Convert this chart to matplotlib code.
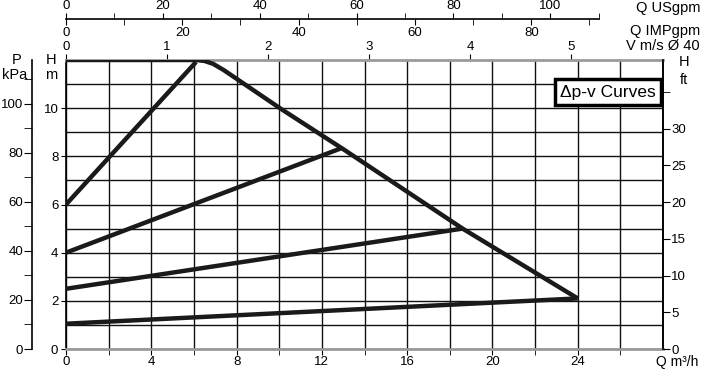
import matplotlib
matplotlib.use('Agg')
import matplotlib.pyplot as plt

plt.rcParams['font.family'] = ['Liberation Sans', 'DejaVu Sans']
plt.rcParams['font.size'] = 9.5

# Max curve (m3/h, m)
q_max = [0, 6.1, 6.5, 6.9, 7.4, 8.0, 10.1, 13.0, 18.6, 24.0]
h_max = [12.0, 12.0, 11.96, 11.84, 11.58, 11.22, 9.96, 8.3, 5.0, 2.1]

# dp-v straight lines: start head at Q=0, end point on max curve
dpv_h0 = [6.0, 4.0, 2.5, 1.05]
dpv_q1 = [6.1, 12.95, 18.6, 24.0]
dpv_h1 = [11.92, 8.35, 5.0, 2.1]

# unit conversions
M_TO_KPA = 9.81
M_TO_FT = 3.28084
M3H_TO_USGPM = 4.403
M3H_TO_IMPGPM = 3.666
M3H_PER_MS = 4.74   # DN40 velocity scale

W, H = 703, 371
fig = plt.figure(figsize=(W / 100, H / 100), dpi=100)


def px(x, y):
    return x / W, 1 - y / H


ax = fig.add_axes([66 / W, 1 - 349 / H, (663 - 66) / W, (349 - 60) / H])
ax.set_xlim(0, 28)
ax.set_ylim(0, 12)
ax.set_xticks(range(0, 25, 4))
ax.set_xticks([2, 6, 10, 14, 18, 22, 26], minor=True)
ax.set_yticks(range(0, 11, 2))
ax.set_yticks([1, 3, 5, 7, 9, 11], minor=True)
ax.grid(which='both', color='#111111', lw=1.0)
ax.set_axisbelow(True)
ax.tick_params(axis='x', which='both', direction='out', length=4, pad=1)
ax.tick_params(axis='y', which='major', direction='out', length=3.5, pad=2)
ax.tick_params(axis='y', which='minor', length=0)
for s in ['left', 'right']:
    ax.spines[s].set_color('black')
    ax.spines[s].set_linewidth(1.2)
for s in ['top', 'bottom']:
    ax.spines[s].set_color('#9a9a9a')
    ax.spines[s].set_linewidth(2)

ax.plot(q_max, h_max, color='#1a1a1a', lw=3.2, solid_joinstyle='round',
        solid_capstyle='butt', zorder=5)
for h0, q1, h1 in zip(dpv_h0, dpv_q1, dpv_h1):
    ax.plot([0, q1], [h0, h1], color='#1a1a1a', lw=3.2,
            solid_capstyle='butt', zorder=5)

# P kPa axis on the far left (34 px outside the main axes)
axp = ax.twinx()
axp.set_ylim(0, 12 * M_TO_KPA)
axp.yaxis.set_ticks_position('left')
axp.spines['left'].set_position(('outward', 34 * 0.72))
for s in ['right', 'top', 'bottom']:
    axp.spines[s].set_visible(False)
axp.spines['left'].set_linewidth(1.2)
axp.set_yticks(range(0, 101, 20))
axp.set_yticks(range(10, 111, 20), minor=True)
axp.tick_params(axis='y', which='both', direction='out', length=5.5, pad=1)

# H ft axis on the right
axf = ax.twinx()
axf.set_ylim(0, 12 * M_TO_FT)
for s in ['left', 'top', 'bottom']:
    axf.spines[s].set_visible(False)
axf.spines['right'].set_linewidth(1.2)
axf.set_yticks(range(0, 31, 5))
axf.set_yticks([35], minor=True)
axf.tick_params(axis='y', which='both', direction='out', length=5, pad=1)

# top scales
loc = 1 + (60 - 19) / (349 - 60)
sec_us = ax.secondary_xaxis(loc, functions=(lambda q: q * M3H_TO_USGPM,
                                            lambda g: g / M3H_TO_USGPM))
sec_us.set_xticks(range(0, 101, 20))
sec_us.set_xticks(range(10, 111, 20), minor=True)
sec_us.tick_params(which='both', direction='out', length=4, pad=1)
sec_us.spines['top'].set_bounds(0, 110)
sec_us.spines['top'].set_linewidth(1.2)

sec_imp = ax.secondary_xaxis(loc, functions=(lambda q: q * M3H_TO_IMPGPM,
                                             lambda g: g / M3H_TO_IMPGPM))
sec_imp.set_alignment('bottom')
sec_imp.set_xticks(range(0, 81, 20))
sec_imp.set_xticks(range(10, 91, 20), minor=True)
sec_imp.tick_params(which='both', direction='out', length=4, pad=2)
sec_imp.spines['bottom'].set_visible(False)

sec_v = ax.secondary_xaxis('top', functions=(lambda q: q / M3H_PER_MS,
                                             lambda v: v * M3H_PER_MS))
sec_v.set_xticks(range(0, 6))
sec_v.tick_params(direction='out', length=4, pad=1)
sec_v.spines['top'].set_visible(False)

# axis captions
cap = dict(fontsize=10.5)
fig.text(*px(700, 8), 'Q USgpm', ha='right', va='center', **cap)
fig.text(*px(700, 31), 'Q IMPgpm', ha='right', va='center', **cap)
fig.text(*px(700, 46), 'V m/s Ø 40', ha='right', va='center', **cap)
fig.text(*px(17, 60), 'P', ha='center', va='center', **cap)
fig.text(*px(15, 75), 'kPa', ha='center', va='center', **cap)
fig.text(*px(51, 60), 'H', ha='center', va='center', **cap)
fig.text(*px(51, 75), 'm', ha='center', va='center', **cap)
fig.text(*px(684, 62), 'H', ha='center', va='center', **cap)
fig.text(*px(684, 80), 'ft', ha='center', va='center', **cap)
fig.text(*px(698, 362), 'Q m³/h', ha='right', va='center', fontsize=10)

fig.text(*px(608, 92), 'Δp-v Curves', ha='center', va='center', fontsize=12.5,
         bbox=dict(boxstyle='square,pad=0.3', fc='white', ec='black', lw=2.5))

fig.savefig('out.png', dpi=100)
